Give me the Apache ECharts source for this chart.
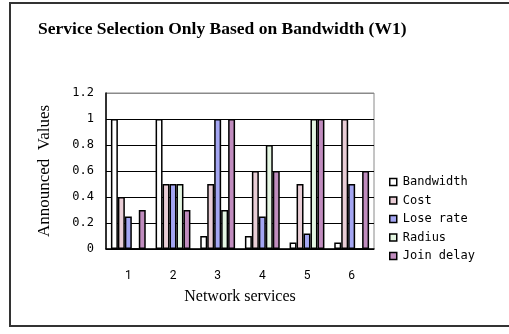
<!DOCTYPE html>
<html>
<head>
<meta charset="utf-8">
<script src="https://cdn.jsdelivr.net/npm/echarts@6/dist/echarts.min.js"></script>
<style>
  html, body { margin: 0; padding: 0; background: #fff; }
  #chart { width: 509px; height: 334px; }
</style>
</head>
<body>
<div id="chart"></div>
<script>
// Network services on the x axis
const services = ['1', '2', '3', '4', '5', '6'];

// Announced values per metric
const bandwidth = [1, 1, 0.1, 0.1, 0.05, 0.05];
const cost      = [0.4, 0.5, 0.5, 0.6, 0.5, 1];
const loseRate  = [0.25, 0.5, 1, 0.25, 0.12, 0.5];
const radius    = [0, 0.5, 0.3, 0.8, 1, 0];
const joinDelay = [0.3, 0.3, 1, 0.6, 1, 0.6];

const seriesNames = ['Bandwidth', 'Cost', 'Lose rate', 'Radius', 'Join delay'];
const seriesData = [bandwidth, cost, loseRate, radius, joinDelay];
const fills = ['#ffffff', '#e9cdd6', '#a4a6f2', '#e4f6e2', '#c08cbe'];

const chart = echarts.init(document.getElementById('chart'), null, { renderer: 'canvas' });

const serif = '"Liberation Serif", "Times New Roman", serif';
const mono = '"DejaVu Sans Mono", monospace';

chart.setOption({
  animation: false,
  backgroundColor: '#ffffff',
  title: {
    text: 'Service Selection Only Based on Bandwidth (W1)',
    left: 33,
    top: 15,
    textStyle: { fontFamily: serif, fontWeight: 'bold', fontSize: 17.5, color: '#000' }
  },
  legend: {
    orient: 'vertical',
    left: 384,
    top: 171,
    itemWidth: 7,
    itemHeight: 7,
    itemGap: 6.5,
    icon: 'rect',
    data: seriesNames,
    itemStyle: { borderColor: '#000', borderWidth: 1.5 },
    textStyle: { fontFamily: mono, fontSize: 12, color: '#000', padding: [0, 0, 0, 1] }
  },
  grid: {
    left: 106, right: 135, top: 93, bottom: 85,
    show: true, borderColor: '#8a8a8a', borderWidth: 1
  },
  xAxis: {
    type: 'category',
    data: services,
    name: 'Network services',
    nameLocation: 'middle',
    nameGap: 40,
    nameTextStyle: { fontFamily: serif, fontSize: 16, color: '#000' },
    axisLine: { lineStyle: { color: '#000', width: 1.5 } },
    axisTick: { inside: true, length: 3, lineStyle: { color: '#000' } },
    axisLabel: { fontFamily: 'Roboto, sans-serif', fontSize: 12, color: '#000', margin: 21 },
    splitLine: { show: false }
  },
  yAxis: {
    type: 'value',
    min: 0, max: 1.2, interval: 0.2,
    name: 'Announced  Values',
    nameLocation: 'middle',
    nameGap: 53,
    nameTextStyle: { fontFamily: serif, fontSize: 17, color: '#000' },
    axisLine: { show: true, lineStyle: { color: '#000', width: 1.5 } },
    axisTick: { show: false },
    axisLabel: {
      fontFamily: mono, fontSize: 12, color: '#000', margin: 12,
      formatter: v => (Math.round(v * 10) / 10).toString()
    },
    splitLine: { lineStyle: { color: ['#000', '#000', '#000', '#000', '#000', '#000', '#8a8a8a'], width: 1 } }
  },
  series: seriesData.map((d, i) => ({
    name: seriesNames[i],
    type: 'bar',
    data: d,
    barGap: '0%',
    barCategoryGap: '22%',
    itemStyle: { color: fills[i], borderColor: '#000', borderWidth: 1.5 }
  })),
  graphic: [{
    type: 'rect',
    shape: { x: 10, y: 3, width: 520, height: 323 },
    style: { fill: null, stroke: '#333', lineWidth: 2 },
    silent: true
  }]
});
</script>
</body>
</html>
